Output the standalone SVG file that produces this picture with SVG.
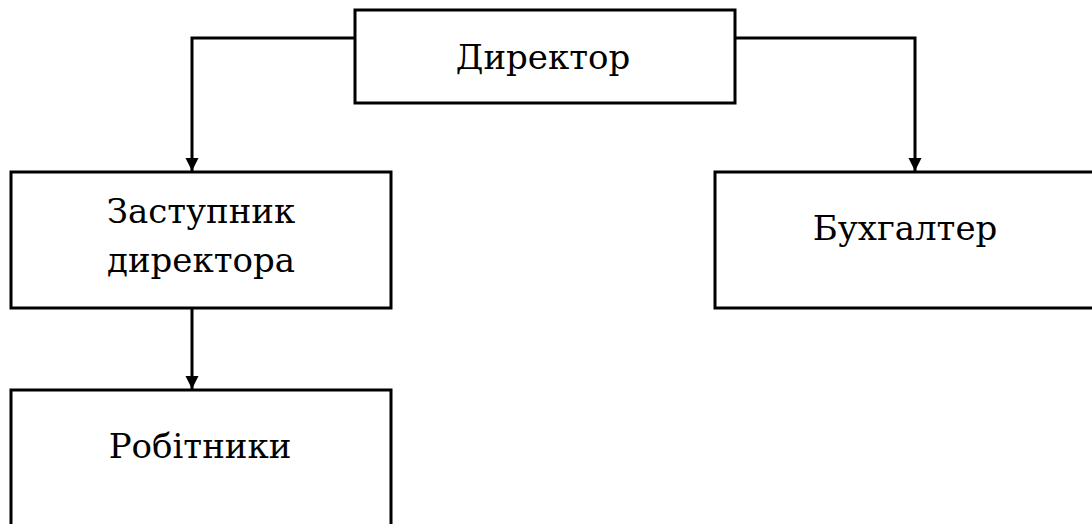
<svg xmlns="http://www.w3.org/2000/svg" width="1092" height="524" viewBox="0 0 1092 524">
  <style>
    .box { fill: #fff; stroke: #000; stroke-width: 3; }
    .wire { fill: none; stroke: #000; stroke-width: 3; }
    .lbl { font-family: "DejaVu Serif", serif; font-size: 34px; fill: #000; text-anchor: middle; }
  </style>
  <defs>
    <marker id="arrow" viewBox="0 0 10 10" refX="10" refY="5" markerWidth="4.5" markerHeight="4.5" markerUnits="strokeWidth" orient="auto">
      <path d="M0,0 L10,5 L0,10 Z" fill="#000"/>
    </marker>
  </defs>
  <rect width="1092" height="524" fill="#fff"/>

  <g id="connectors">
    <polyline class="wire" points="355,38 192,38 192,171" marker-end="url(#arrow)"/>
    <polyline class="wire" points="735,38 915,38 915,171" marker-end="url(#arrow)"/>
    <polyline class="wire" points="192,308 192,389" marker-end="url(#arrow)"/>
  </g>

  <g id="director">
    <rect class="box" x="355" y="10" width="380" height="93"/>
    <text class="lbl" x="543" y="69">Директор</text>
  </g>

  <g id="deputy">
    <rect class="box" x="11" y="172" width="380" height="136"/>
    <text class="lbl" x="201" y="223">Заступник</text>
    <text class="lbl" x="201" y="272">директора</text>
  </g>

  <g id="accountant">
    <rect class="box" x="715" y="172" width="390" height="136"/>
    <text class="lbl" x="905" y="240">Бухгалтер</text>
  </g>

  <g id="workers">
    <rect class="box" x="11" y="390" width="380" height="150"/>
    <text class="lbl" x="200" y="458">Робітники</text>
  </g>
</svg>
